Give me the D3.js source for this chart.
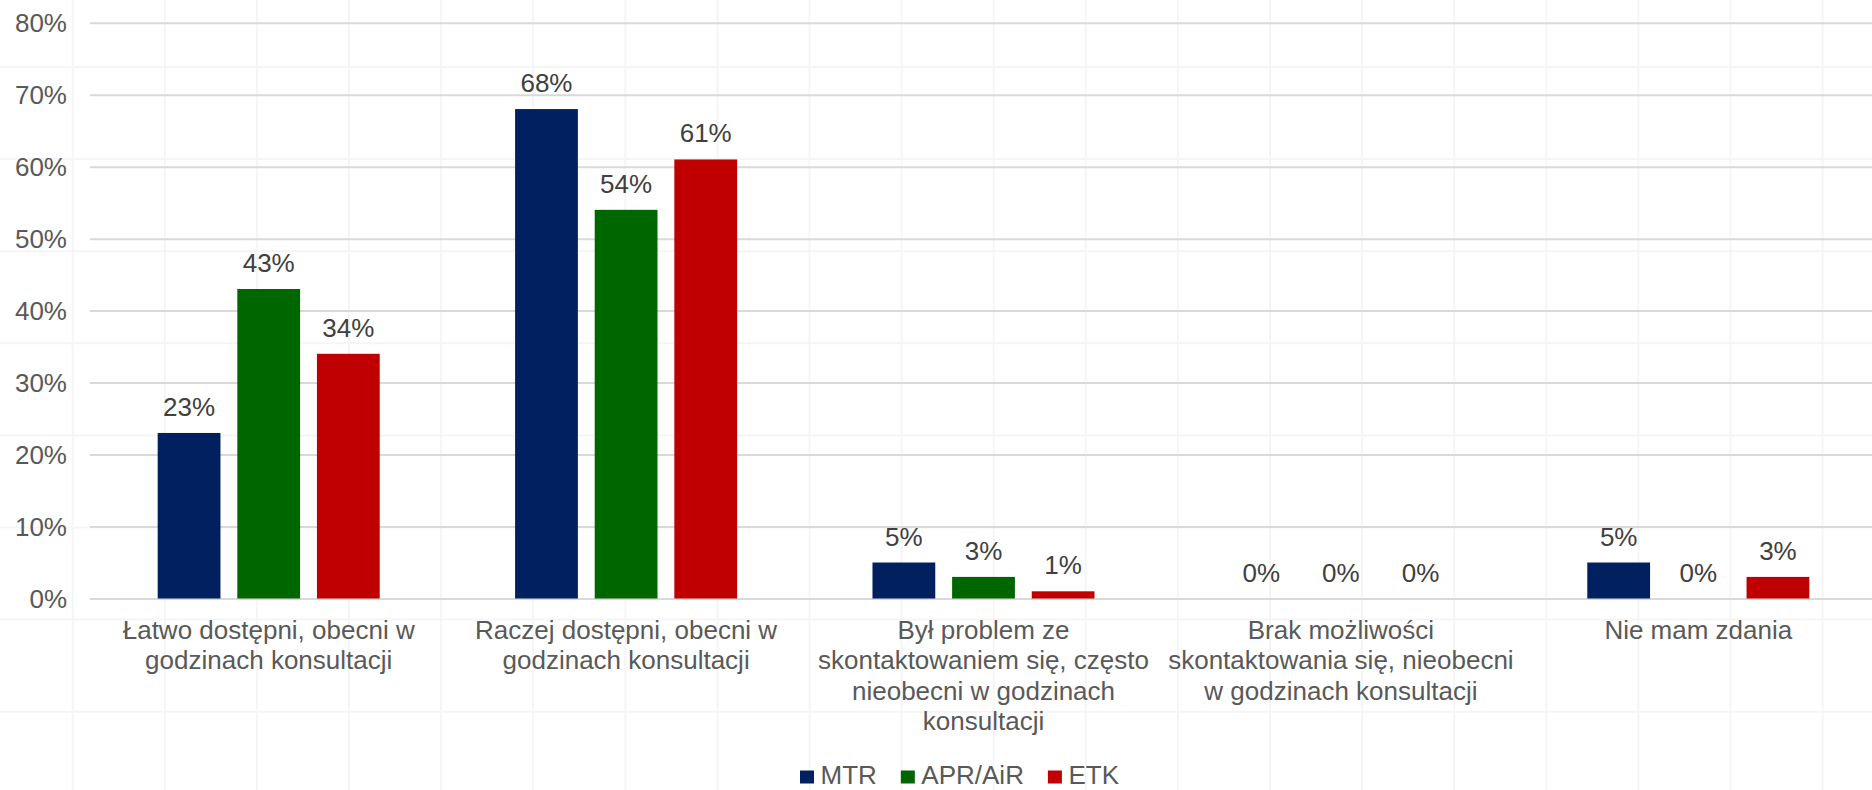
<!DOCTYPE html>
<html>
<head>
<meta charset="utf-8">
<script src="https://cdn.jsdelivr.net/npm/d3@7"></script>
<style>
  html, body { margin: 0; padding: 0; background: #ffffff; }
  svg { display: block; }
  text { font-family: "Liberation Sans", Arial, sans-serif; }
</style>
</head>
<body>
<svg id="chart" width="1872" height="790"></svg>
<script>
// ---- data ----
const categories = [
  "Łatwo dostępni, obecni w\ngodzinach konsultacji",
  "Raczej dostępni, obecni w\ngodzinach konsultacji",
  "Był problem ze\nskontaktowaniem się, często\nnieobecni w godzinach\nkonsultacji",
  "Brak możliwości\nskontaktowania się, nieobecni\nw godzinach konsultacji",
  "Nie mam zdania"
];
const seriesNames = ["MTR", "APR/AiR", "ETK"];
const mtrValues = [23, 68, 5, 0, 5];
const aprValues = [43, 54, 3, 0, 0];
const etkValues = [34, 61, 1, 0, 3];
const seriesColors = ["#002060", "#006600", "#C00000"];
const yTicks = [0, 10, 20, 30, 40, 50, 60, 70, 80];

const seriesValues = [mtrValues, aprValues, etkValues];

// ---- layout ----
const W = 1872, H = 790;
const plot = { left: 90, right: 1877, top: 22.7, bottom: 598.5 };
const svg = d3.select("#chart");

// faint background texture grid
const bg = svg.append("g").attr("class", "bg-grid");
bg.selectAll("line.v").data(d3.range(72.7, W, 92.1)).join("line")
  .attr("x1", d => d).attr("x2", d => d).attr("y1", 0).attr("y2", H)
  .attr("stroke", "#f5f5f5").attr("stroke-width", 2);
bg.selectAll("line.h").data(d3.range(67, H, 92.1)).join("line")
  .attr("y1", d => d).attr("y2", d => d).attr("x1", 0).attr("x2", W)
  .attr("stroke", "#f5f5f5").attr("stroke-width", 2);

const x0 = d3.scaleBand().domain(categories).range([plot.left, plot.right]).paddingInner(0).paddingOuter(0);
const x1 = d3.scaleBand().domain(seriesNames).range([0, x0.bandwidth()]).paddingInner(0.2116).paddingOuter(0.85);
const y = d3.scaleLinear().domain([0, 80]).range([plot.bottom, plot.top]);

// gridlines + y axis
const yAxis = d3.axisLeft(y).tickValues(yTicks).tickFormat(d => d + "%").tickSize(-(W - plot.left)).tickPadding(23);
const gy = svg.append("g").attr("transform", `translate(${plot.left},0)`).call(yAxis);
gy.select(".domain").remove();
gy.selectAll(".tick line").attr("stroke", "#d9d9d9").attr("stroke-width", 2);
gy.selectAll(".tick text")
  .attr("fill", "#595959").attr("font-size", 26)
  .attr("font-family", "Liberation Sans, Arial, sans-serif")
  .attr("dy", "0.35em");

// bars
const groups = svg.append("g").selectAll("g").data(categories).join("g")
  .attr("transform", d => `translate(${x0(d)},0)`);

const barData = (cat, ci) => seriesNames.map((s, si) => ({ s, si, v: seriesValues[si][ci] }));

groups.each(function(cat, ci) {
  const g = d3.select(this);
  const data = barData(cat, ci);
  g.selectAll("rect").data(data).join("rect")
    .attr("x", d => x1(d.s))
    .attr("width", x1.bandwidth())
    .attr("y", d => y(d.v))
    .attr("height", d => y(0) - y(d.v))
    .attr("fill", d => seriesColors[d.si]);
  g.selectAll("text.val").data(data).join("text")
    .attr("class", "val")
    .attr("x", d => x1(d.s) + x1.bandwidth() / 2)
    .attr("y", d => y(d.v) - 17)
    .attr("text-anchor", "middle")
    .attr("font-size", 26)
    .attr("fill", "#404040")
    .text(d => d.v + "%");
});

// category labels
const xAxis = d3.axisBottom(x0).tickSize(0).tickFormat("");
const gx = svg.append("g").attr("transform", `translate(0,${plot.bottom})`).call(xAxis);
gx.select(".domain").remove();
gx.selectAll(".tick").each(function(d) {
  const t = d3.select(this).append("text")
    .attr("text-anchor", "middle")
    .attr("font-size", 26)
    .attr("fill", "#595959")
    .attr("y", 40);
  d.split("\n").forEach((line, i) => {
    t.append("tspan").attr("x", 0).attr("dy", i === 0 ? 0 : 30.5).text(line);
  });
});

// legend
const legend = svg.append("g").attr("transform", "translate(800,0)");
let lx = 0;
seriesNames.forEach((s, i) => {
  const g = legend.append("g").attr("transform", `translate(${lx},0)`);
  g.append("rect").attr("x", 0).attr("y", 770.5).attr("width", 14).attr("height", 13).attr("fill", seriesColors[i]);
  const t = g.append("text").attr("x", 20.5).attr("y", 784).attr("font-size", 26).attr("fill", "#595959").text(s);
  lx += 20.5 + t.node().getComputedTextLength() + 24;
});
</script>
</body>
</html>
